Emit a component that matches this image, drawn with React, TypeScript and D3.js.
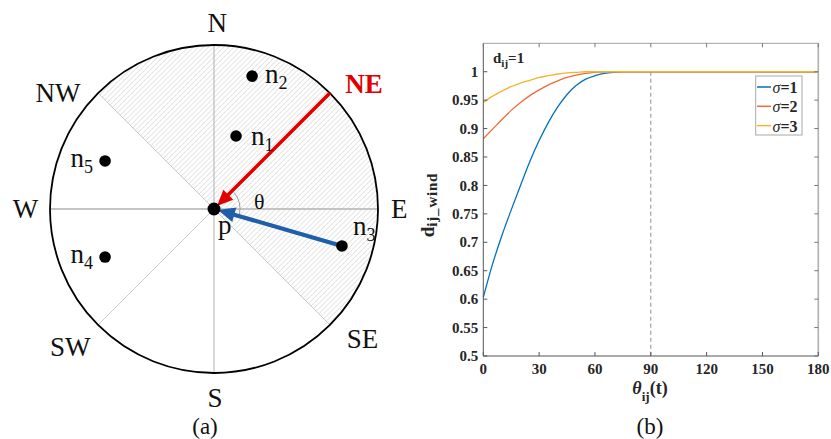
import * as d3 from "d3";

// ── Panel (a) data ────────────────────────────────────────────────────────────

const COMPASS = ["N", "NE", "E", "SE", "S", "SW", "W", "NW"];
const COMPASS_DIR = [90, 45, 0, -45, -90, -135, 180, 135]; // degrees, math convention
const LABEL_ANGLE = [89, 39.8, 0, -41.3, -89.7, -136.2, 180, 143.4];
const LABEL_RADIUS = [1.135, 1.19, 1.13, 1.205, 1.15, 1.215, 1.15, 1.185];

const NODES = ["n1", "n2", "n3", "n4", "n5"];
const NODE_ANGLE = [73.2, 74, -16.1, 203.8, 156.2];
const NODE_RADIUS = [0.465, 0.843, 0.812, 0.726, 0.726];

// ── Panel (b) data ────────────────────────────────────────────────────────────

const THETA = [0, 5, 10, 15, 20, 25, 30, 35, 40, 45, 50, 55, 60, 65, 70, 75, 80, 85, 90, 120, 150, 180];
const SIGMA1 = [0.603, 0.662, 0.712, 0.757, 0.8, 0.842, 0.879, 0.911, 0.938, 0.96, 0.976, 0.987, 0.993, 0.997, 0.999, 1, 1, 1, 1, 1, 1, 1];
const SIGMA2 = [0.882, 0.899, 0.916, 0.932, 0.946, 0.958, 0.968, 0.977, 0.984, 0.99, 0.994, 0.997, 0.999, 1, 1, 1, 1, 1, 1, 1, 1, 1];
const SIGMA3 = [0.946, 0.957, 0.966, 0.974, 0.98, 0.985, 0.99, 0.993, 0.996, 0.998, 0.999, 1, 1, 1, 1, 1, 1, 1, 1, 1, 1, 1];
const SERIES_NAMES = ["1", "2", "3"];
const SERIES_COLORS = ["#0072BD", "#EE6A3C", "#F2B431"];
const X_TICKS = [0, 30, 60, 90, 120, 150, 180];
const Y_TICKS = [0.5, 0.55, 0.6, 0.65, 0.7, 0.75, 0.8, 0.85, 0.9, 0.95, 1];

// ── Helpers ───────────────────────────────────────────────────────────────────

const CX = 214;
const CY = 209;
const R = 164;

const rad = d3.scaleLinear().domain([0, 1]).range([0, R]);

function polar(angleDeg: number, r: number): [number, number] {
  const a = (angleDeg * Math.PI) / 180;
  return [CX + rad(r) * Math.cos(a), CY - rad(r) * Math.sin(a)];
}

function arrow(from: [number, number], to: [number, number], len: number, half: number) {
  const dx = to[0] - from[0];
  const dy = to[1] - from[1];
  const d = Math.hypot(dx, dy);
  const ux = dx / d;
  const uy = dy / d;
  const bx = to[0] - ux * len;
  const by = to[1] - uy * len;
  const head = [
    [to[0], to[1]],
    [bx - uy * half, by + ux * half],
    [bx + uy * half, by - ux * half],
  ]
    .map((p) => p.join(","))
    .join(" ");
  return { end: [bx + ux * 2, by + uy * 2], head };
}

const SERIF = "Liberation Serif, Times New Roman, serif";
const T = { fontFamily: SERIF, fill: "#262626" };
const TB = { fontFamily: SERIF, fontWeight: 700, fill: "#262626" };

// ── Panel (a) ─────────────────────────────────────────────────────────────────

function WindRose() {
  const half = d3
    .arc()
    .innerRadius(0)
    .outerRadius(R)
    .startAngle(-Math.PI / 4)
    .endAngle((3 * Math.PI) / 4);

  const ne = polar(45, 1);
  const n3 = polar(NODE_ANGLE[2], NODE_RADIUS[2]);
  const red = arrow(ne, [CX + 3, CY - 3], 16, 7);
  const blue = arrow(n3, [CX + 4, CY + 1], 17, 7.5);

  const thetaArc = d3.path();
  thetaArc.arc(CX, CY, 26, (-40 * Math.PI) / 180, (12 * Math.PI) / 180);

  const subOffsets: Record<string, [number, number, string]> = {
    n1: [15, 9, "start"],
    n2: [13, 7, "start"],
    n3: [11, -11, "start"],
    n4: [-12, 6, "end"],
    n5: [-12, 6, "end"],
  };

  return (
    <g>
      <defs>
        <pattern id="hatch" width="3.6" height="3.6" patternUnits="userSpaceOnUse" patternTransform="rotate(45)">
          <line x1={0} y1={0} x2={0} y2={3.6} stroke="#bdbdbd" strokeWidth={0.8} />
        </pattern>
      </defs>
      <path d={half(null as any) ?? ""} transform={`translate(${CX},${CY})`} fill="url(#hatch)" />

      {/* direction lines */}
      {COMPASS_DIR.map((a, i) => {
        const [x, y] = polar(a, 1);
        const axis = a % 90 === 0;
        const horiz = a === 0 || a === 180;
        return (
          <line
            key={i}
            x1={CX}
            y1={CY}
            x2={x}
            y2={y}
            stroke={horiz ? "#c4c4c4" : axis ? "#b0b0b0" : "#bdbdbd"}
            strokeWidth={horiz ? 2 : axis ? 1 : 0.8}
          />
        );
      })}

      <circle cx={CX} cy={CY} r={R} fill="none" stroke="#000" strokeWidth={1.8} />

      <path d={thetaArc.toString()} fill="none" stroke="#9a9a9a" strokeWidth={1} />

      {/* compass labels */}
      {COMPASS.map((name, i) => {
        const [x, y] = polar(LABEL_ANGLE[i], LABEL_RADIUS[i]);
        const isNE = name === "NE";
        return (
          <text
            key={name}
            x={x}
            y={y}
            textAnchor="middle"
            dominantBaseline="central"
            style={{ fontFamily: SERIF, fontSize: 27, fontWeight: isNE ? 700 : 400, fill: isNE ? "#e00000" : "#111" }}
          >
            {name}
          </text>
        );
      })}

      {/* arrows */}
      <line x1={ne[0]} y1={ne[1]} x2={red.end[0]} y2={red.end[1]} stroke="#e00000" strokeWidth={3.6} />
      <polygon points={red.head} fill="#e00000" />
      <line x1={n3[0]} y1={n3[1]} x2={blue.end[0]} y2={blue.end[1]} stroke="#1f5ea8" strokeWidth={4.2} />
      <polygon points={blue.head} fill="#1f5ea8" />

      {/* nodes */}
      {NODES.map((name, i) => {
        const [x, y] = polar(NODE_ANGLE[i], NODE_RADIUS[i]);
        const [dx, dy, anchor] = subOffsets[name];
        return (
          <g key={name}>
            <circle cx={x} cy={y} r={5.8} fill="#000" />
            <text x={x + dx} y={y + dy} textAnchor={anchor} style={{ ...T, fill: "#111", fontSize: 27 }}>
              n<tspan style={{ fontSize: 18 }} dy={6}>{name.slice(1)}</tspan>
            </text>
          </g>
        );
      })}

      <circle cx={CX} cy={CY} r={6.5} fill="#000" />
      <text x={CX + 4} y={CY + 25} style={{ ...T, fill: "#111", fontSize: 27 }}>p</text>
      <text x={CX + 40} y={CY} style={{ ...T, fill: "#111", fontSize: 22 }}>θ</text>

      <text x={205} y={434} textAnchor="middle" style={{ ...T, fill: "#111", fontSize: 23 }}>(a)</text>
    </g>
  );
}

// ── Panel (b) ─────────────────────────────────────────────────────────────────

function WindChart() {
  const x = d3.scaleLinear().domain([0, 180]).range([483.3, 818.3]);
  const y = d3.scaleLinear().domain([0.5, 1.05]).range([356, 43.3]);
  const [x0, x1] = x.range();
  const [y0, y1] = y.range();

  const line = d3
    .line<number>()
    .x((_d, i) => x(THETA[i]))
    .y((d) => y(d))
    .curve(d3.curveMonotoneX);

  const series = [SIGMA1, SIGMA2, SIGMA3];

  return (
    <g>
      <rect x={x0} y={y1} width={x1 - x0} height={y0 - y1} fill="#fff" />

      {/* dashed 90° marker */}
      <line x1={x(90)} x2={x(90)} y1={y(1)} y2={y0} stroke="#8c8c8c" strokeWidth={1} strokeDasharray="4,3" />

      {series.map((s, i) => (
        <path key={i} d={line(s) ?? ""} fill="none" stroke={SERIES_COLORS[i]} strokeWidth={1.3} />
      ))}

      {/* frame */}
      <line x1={x0} x2={x1} y1={y1} y2={y1} stroke="#a0a0a0" strokeWidth={1} />
      <line x1={x1} x2={x1} y1={y1} y2={y0} stroke="#b0b0b0" strokeWidth={1.6} />
      <line x1={x0} x2={x0} y1={y1} y2={y0} stroke="#555" strokeWidth={1} />
      <line x1={x0} x2={x1} y1={y0} y2={y0} stroke="#555" strokeWidth={1} />

      {X_TICKS.map((t) => (
        <g key={t}>
          <line x1={x(t)} x2={x(t)} y1={y0} y2={y0 - 4} stroke="#555" />
          <line x1={x(t)} x2={x(t)} y1={y1} y2={y1 + 4} stroke="#777" />
          <text x={x(t)} y={y0 + 18} textAnchor="middle" style={{ ...TB, fontSize: 15 }}>
            {t}
          </text>
        </g>
      ))}

      {Y_TICKS.map((t) => (
        <g key={t}>
          <line x1={x0} x2={x0 + 4} y1={y(t)} y2={y(t)} stroke="#555" />
          <line x1={x1} x2={x1 - 4} y1={y(t)} y2={y(t)} stroke="#777" />
          <text x={x0 - 5} y={y(t)} dy="0.34em" textAnchor="end" style={{ ...TB, fontSize: 15 }}>
            {String(t)}
          </text>
        </g>
      ))}

      {/* annotation */}
      <text x={493} y={63} style={{ ...TB, fontSize: 15 }}>
        d<tspan style={{ fontSize: 11 }} dy={4}>ij</tspan>
        <tspan dy={-4}>=1</tspan>
      </text>

      {/* legend */}
      <rect x={755.7} y={76} width={46.3} height={59} fill="#fff" stroke="#a8a8a8" strokeWidth={1} />
      {SERIES_NAMES.map((n, i) => {
        const ly = 87 + i * 19.3;
        return (
          <g key={n}>
            <line x1={757} x2={771} y1={ly} y2={ly} stroke={SERIES_COLORS[i]} strokeWidth={1.5} />
            <text x={772.5} y={ly + 6} style={{ ...TB, fontSize: 16 }}>
              <tspan style={{ fontStyle: "italic", fontWeight: 400 }}>σ</tspan>={n}
            </text>
          </g>
        );
      })}

      {/* axis titles */}
      <text transform="translate(434,205) rotate(-90)" textAnchor="middle" style={{ ...TB, fontSize: 19 }}>
        d<tspan style={{ fontSize: 15, letterSpacing: 0.8 }} dy={3}>ij_wind</tspan>
      </text>
      <text x={650} y={394} textAnchor="middle" style={{ ...TB, fontSize: 18 }}>
        <tspan style={{ fontStyle: "italic" }}>θ</tspan>
        <tspan style={{ fontSize: 13 }} dy={7}>ij</tspan>
        <tspan dy={-7}>(t)</tspan>
      </text>

      <text x={650} y={434} textAnchor="middle" style={{ ...T, fill: "#111", fontSize: 23 }}>
        (b)
      </text>
    </g>
  );
}

export default function App() {
  return (
    <div style={{ position: "absolute", left: 0, top: 0, width: 831, height: 439, background: "#fff" }}>
      <svg width={831} height={439} style={{ display: "block" }}>
        <rect width={831} height={439} fill="#fff" />
        <WindRose />
        <WindChart />
      </svg>
    </div>
  );
}
